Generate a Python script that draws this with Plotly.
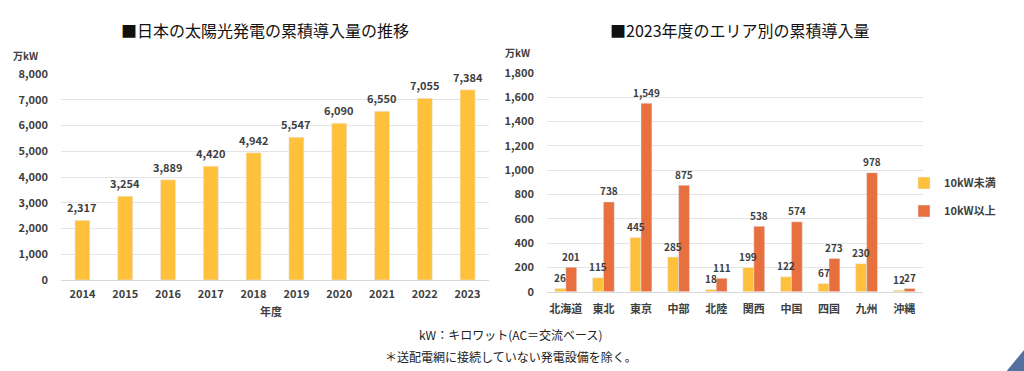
import plotly.graph_objects as go

# ---- data ----
years = ["2014", "2015", "2016", "2017", "2018", "2019", "2020", "2021", "2022", "2023"]
cumulative = [2317, 3254, 3889, 4420, 4942, 5547, 6090, 6550, 7055, 7384]

areas = ["北海道", "東北", "東京", "中部", "北陸", "関西", "中国", "四国", "九州", "沖縄"]
under10 = [26, 115, 445, 285, 18, 199, 122, 67, 230, 12]
over10 = [201, 738, 1549, 875, 111, 538, 574, 273, 978, 27]

left_ticks = [0, 1000, 2000, 3000, 4000, 5000, 6000, 7000, 8000]
right_ticks = [0, 200, 400, 600, 800, 1000, 1200, 1400, 1600, 1800]

# ---- style ----
YELLOW = "#FFC13C"
ORANGE = "#E8703F"
TXT = "#404040"
FONT = "Noto Sans CJK JP"
W, H = 1024, 371

fig = go.Figure()

fig.add_trace(go.Bar(x=years, y=cumulative, marker_color=YELLOW, width=0.35,
                     xaxis="x", yaxis="y", showlegend=False, name="累積導入量"))
fig.add_trace(go.Bar(x=areas, y=under10, marker_color=YELLOW, width=0.29, offset=-0.29,
                     xaxis="x2", yaxis="y2", name="10kW未満", legendgroup="a"))
fig.add_trace(go.Bar(x=areas, y=over10, marker_color=ORANGE, width=0.29, offset=0,
                     xaxis="x2", yaxis="y2", name="10kW以上", legendgroup="b"))

annotations = []
lab_font = dict(family=FONT, size=11, color=TXT, weight=700)
for i, v in enumerate(cumulative):
    annotations.append(dict(x=i, y=v, xref="x", yref="y", text=f"{v:,}", showarrow=False,
                            yshift=13, font=lab_font))
lab_font2 = dict(family=FONT, size=10, color=TXT, weight=700)
for i, v in enumerate(under10):
    annotations.append(dict(x=i - 0.145, y=v, xref="x2", yref="y2", text=f"{v:,}", showarrow=False,
                            yshift=11, font=lab_font2))
for i, v in enumerate(over10):
    annotations.append(dict(x=i + 0.145, y=v, xref="x2", yref="y2", text=f"{v:,}", showarrow=False,
                            yshift=11, font=lab_font2))

def px(x):
    return x / W

def py(y):
    return 1 - y / H

title_font = dict(family=FONT, size=16, color="#111111", weight=400)
annotations += [
    dict(x=px(265), y=py(30), xref="paper", yref="paper", text="■日本の太陽光発電の累積導入量の推移",
         showarrow=False, font=title_font, xanchor="center", yanchor="middle"),
    dict(x=px(740), y=py(30), xref="paper", yref="paper", text="■2023年度のエリア別の累積導入量",
         showarrow=False, font=title_font, xanchor="center", yanchor="middle"),
    dict(x=px(25.5), y=py(55), xref="paper", yref="paper", text="万kW", showarrow=False,
         font=dict(family=FONT, size=10, color=TXT, weight=700), xanchor="center", yanchor="middle"),
    dict(x=px(517.5), y=py(52), xref="paper", yref="paper", text="万kW", showarrow=False,
         font=dict(family=FONT, size=10, color=TXT, weight=700), xanchor="center", yanchor="middle"),
    dict(x=px(271), y=py(311), xref="paper", yref="paper", text="年度", showarrow=False,
         font=dict(family=FONT, size=11, color=TXT, weight=700), xanchor="center", yanchor="middle"),
    dict(x=px(511), y=py(334), xref="paper", yref="paper", text="kW：キロワット(AC＝交流ベース)",
         showarrow=False, font=dict(family=FONT, size=12, color="#222222", weight=400),
         xanchor="center", yanchor="middle"),
    dict(x=px(511), y=py(356), xref="paper", yref="paper", text="＊送配電網に接続していない発電設備を除く。",
         showarrow=False, font=dict(family=FONT, size=12, color="#222222", weight=400),
         xanchor="center", yanchor="middle"),
]

tick_font = dict(family=FONT, size=11, color=TXT, weight=700)
grid = "#E4E4E4"

fig.update_layout(
    width=W, height=H,
    margin=dict(l=0, r=0, t=0, b=0, autoexpand=False),
    paper_bgcolor="white", plot_bgcolor="white",
    barmode="overlay",
    font=dict(family=FONT),
    xaxis=dict(domain=[px(61), px(489)], type="category", tickfont=tick_font, automargin=False,
               showline=True, linecolor="#D9D9D9", ticks="", ticklabelstandoff=4, anchor="y"),
    yaxis=dict(domain=[py(280), py(74)], range=[0, 8000], tickvals=left_ticks, automargin=False,
               tickformat=",", tickfont=tick_font, gridcolor=grid, zeroline=False,
               ticks="", ticklabelstandoff=12, anchor="x"),
    xaxis2=dict(domain=[px(547), px(923)], type="category", tickfont=tick_font, automargin=False,
                showline=True, linecolor="#D9D9D9", ticks="", ticklabelstandoff=7, anchor="y2"),
    yaxis2=dict(domain=[py(291.7), py(72.7)], range=[0, 1800], tickvals=right_ticks, automargin=False,
                tickformat=",", tickfont=tick_font, gridcolor=grid, zeroline=False,
                ticks="", ticklabelstandoff=12, anchor="x2"),
    legend=dict(x=px(904), y=py(197), xanchor="left", yanchor="middle",
                font=dict(family=FONT, size=11, color=TXT, weight=700),
                bgcolor="rgba(0,0,0,0)", tracegroupgap=9, itemwidth=30),
    annotations=annotations,
    shapes=[dict(type="path", xref="paper", yref="paper",
                 path=f"M {px(1006.7)},0 L 1,0 L 1,{1 - 350 / H} Z",
                 fillcolor="#5470A0", line=dict(width=0))],
)

fig.write_html("out.html", config={"displayModeBar": False},
               post_script="document.body.style.margin='0';")
